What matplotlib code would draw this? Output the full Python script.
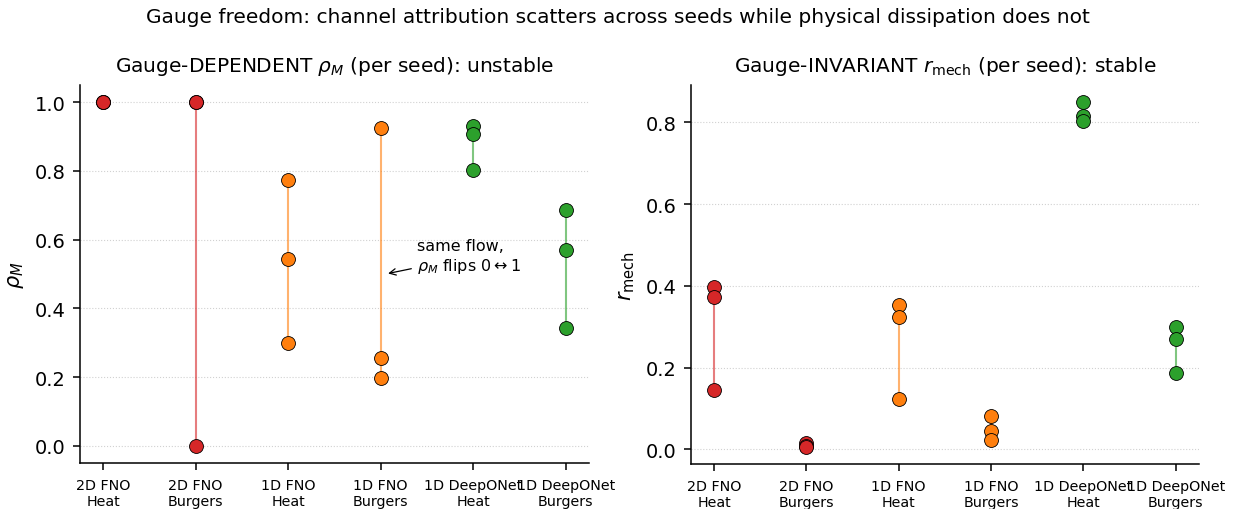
import matplotlib
matplotlib.use("Agg")
import matplotlib.pyplot as plt
import numpy as np

categories = ["2D FNO\nHeat", "2D FNO\nBurgers", "1D FNO\nHeat", "1D FNO\nBurgers",
              "1D DeepONet\nHeat", "1D DeepONet\nBurgers"]
colors = ["#d62728", "#d62728", "#ff7f0e", "#ff7f0e", "#2ca02c", "#2ca02c"]

rho_M = [
    [1.0, 1.0, 1.0],
    [1.0, 0.0, 1.0],
    [0.773, 0.543, 0.299],
    [0.924, 0.255, 0.198],
    [0.930, 0.907, 0.802],
    [0.686, 0.569, 0.343],
]
r_mech = [
    [0.396, 0.372, 0.144],
    [0.016, 0.008, 0.006],
    [0.352, 0.323, 0.122],
    [0.081, 0.045, 0.023],
    [0.849, 0.815, 0.803],
    [0.298, 0.269, 0.186],
]

fig = plt.figure(figsize=(12.36, 5.10), dpi=100)
ax1 = fig.add_axes([0.0647, 0.0902, 0.4118, 0.741])
ax2 = fig.add_axes([0.559, 0.0882, 0.411, 0.743])

def draw(ax, data):
    x = np.arange(len(categories))
    for i, vals in enumerate(data):
        vals = np.asarray(vals)
        ax.plot([x[i], x[i]], [vals.min(), vals.max()], color=colors[i],
                alpha=0.6, lw=1.5, zorder=2)
        ax.scatter(np.full(len(vals), x[i]), vals, s=100, color=colors[i],
                   edgecolor="black", linewidth=0.6, zorder=3)
    ax.set_xticks(x)
    ax.set_xticklabels(categories, fontsize=10.3)
    ax.tick_params(axis="y", labelsize=14)
    ax.tick_params(length=5, width=1.1, pad=5.5)
    ax.grid(axis="y", linestyle=":", color="#cccccc", alpha=0.9)
    ax.set_axisbelow(True)
    for s in ["top", "right"]:
        ax.spines[s].set_visible(False)
    for s in ["left", "bottom"]:
        ax.spines[s].set_linewidth(1.1)

draw(ax1, rho_M)
draw(ax2, r_mech)

ax1.set_title(r"Gauge-DEPENDENT $\rho_M$ (per seed): unstable", fontsize=14.5, pad=10)
ax2.set_title(r"Gauge-INVARIANT $r_{\rm mech}$ (per seed): stable", fontsize=14.5, pad=10)
ax1.set_ylabel(r"$\rho_M$", fontsize=15, labelpad=6)
ax2.set_ylabel(r"$r_{\rm mech}$", fontsize=15, labelpad=6)
ax2.set_yticks([0.0, 0.2, 0.4, 0.6, 0.8])

ax1.annotate("same flow,\n" + r"$\rho_M$ flips 0$\leftrightarrow$1",
             xy=(3.05, 0.5), xytext=(3.39, 0.55), fontsize=11.5,
             ha="left", va="center",
             arrowprops=dict(arrowstyle="->", color="black", lw=0.9))

fig.suptitle("Gauge freedom: channel attribution scatters across seeds while physical dissipation does not",
             fontsize=14.5, y=0.985)

fig.savefig("out.png", dpi=100)
